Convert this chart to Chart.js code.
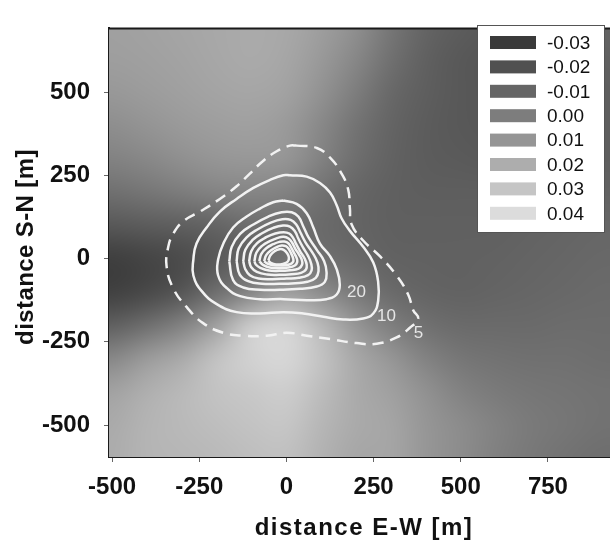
<!DOCTYPE html>
<html>
<head>
<meta charset="utf-8">
<script src="https://cdn.jsdelivr.net/npm/chart.js@4.4.1/dist/chart.umd.min.js"></script>
<style>
  html, body { margin: 0; padding: 0; background: #fff; }
  canvas { display: block; }
</style>
</head>
<body>
<canvas id="map" width="610" height="544"></canvas>
<script>
// axis ticks
const xTicks = [-500, -250, 0, 250, 500, 750];
const yTicks = [-500, -250, 0, 250, 500];

// background field, 100 m cells, grey level
const fieldX = [-500, -400, -300, -200, -100, 0, 100, 200, 300, 400, 500, 600, 700, 800, 900];
const fieldY = [700, 600, 500, 400, 300, 200, 100, 0, -100, -200, -300, -400, -500, -600];
const fieldGray = [
  [160, 162, 165, 168, 170, 168, 158, 143, 118, 100, 92, 88, 88, 92, 100],
  [158, 160, 163, 167, 170, 166, 153, 135, 112, 96, 88, 85, 85, 88, 96],
  [152, 156, 160, 164, 166, 162, 146, 125, 104, 94, 88, 85, 85, 88, 94],
  [142, 148, 154, 158, 160, 154, 136, 115, 100, 92, 88, 86, 86, 88, 94],
  [130, 136, 144, 150, 152, 150, 130, 110, 98, 92, 90, 88, 88, 90, 94],
  [112, 118, 125, 132, 134, 130, 114, 102, 96, 94, 94, 94, 94, 96, 98],
  [88, 92, 95, 100, 110, 112, 106, 100, 96, 96, 96, 96, 98, 100, 102],
  [62, 68, 75, 88, 100, 112, 112, 104, 98, 97, 97, 98, 100, 102, 104],
  [64, 72, 85, 110, 132, 158, 140, 120, 106, 100, 98, 100, 102, 104, 106],
  [95, 110, 130, 160, 205, 212, 185, 150, 126, 112, 106, 106, 106, 108, 108],
  [135, 155, 170, 195, 210, 215, 195, 168, 150, 130, 118, 114, 112, 112, 110],
  [162, 175, 185, 195, 200, 205, 188, 170, 160, 145, 130, 122, 118, 116, 114],
  [170, 180, 185, 190, 195, 198, 182, 170, 165, 150, 140, 130, 122, 118, 114],
  [172, 180, 182, 185, 190, 192, 178, 166, 165, 150, 140, 128, 120, 114, 110]
];

// legend
const legendLabels = ['-0.03', '-0.02', '-0.01', '0.00', '0.01', '0.02', '0.03', '0.04'];
const legendGrays = [58, 80, 102, 125, 149, 173, 197, 220];

// contour lines (closed), [x, y] in m
const contour5 = [[29,339],[87,332],[125,303],[158,255],[177,207],[182,150],[187,102],[220,54],[268,7],[316,-51],[349,-108],[364,-156],[378,-180],[354,-208],[316,-237],[259,-256],[201,-254],[125,-242],[58,-232],[1,-223],[-57,-232],[-124,-232],[-181,-223],[-239,-194],[-286,-146],[-325,-89],[-344,-22],[-339,35],[-325,74],[-296,112],[-248,141],[-191,179],[-143,217],[-105,255],[-67,293],[-28,322],[10,339]];
const contour10 = [[10,250],[58,246],[96,227],[125,198],[144,160],[158,121],[182,83],[220,35],[249,-12],[263,-70],[263,-127],[249,-165],[220,-180],[163,-183],[106,-175],[48,-165],[-9,-161],[-76,-165],[-143,-161],[-200,-137],[-243,-98],[-267,-51],[-267,-3],[-258,45],[-229,93],[-191,141],[-143,179],[-95,212],[-47,236],[-9,250]];
const contour20 = [[-9,174],[29,164],[58,136],[77,93],[96,45],[125,7],[144,-32],[153,-79],[144,-108],[115,-122],[58,-125],[-9,-122],[-76,-122],[-133,-113],[-171,-89],[-196,-51],[-196,-3],[-181,45],[-153,93],[-114,126],[-76,150],[-38,169]];
const contour30 = [[-164,-8],[-157,35],[-133,74],[-95,102],[-52,126],[-14,139],[15,139],[34,126],[48,97],[63,64],[87,26],[108,-8],[115,-41],[110,-70],[87,-84],[39,-91],[-19,-94],[-76,-94],[-124,-87],[-153,-65]];
const contour40 = [[-143,-8],[-137,30],[-115,63],[-82,88],[-45,108],[-12,118],[12,116],[28,102],[40,78],[55,48],[75,17],[89,-12],[92,-38],[84,-58],[60,-70],[25,-74],[-20,-76],[-70,-76],[-110,-68],[-134,-48]];
const contour50 = [[-124,-8],[-118,26],[-98,55],[-70,76],[-38,92],[-10,99],[10,96],[24,82],[34,60],[47,34],[62,8],[71,-16],[72,-36],[62,-50],[35,-58],[0,-60],[-40,-62],[-80,-60],[-105,-50],[-118,-32]];
const contour60 = [[-107,-8],[-101,22],[-84,46],[-58,64],[-32,75],[-8,79],[8,75],[19,62],[28,43],[40,20],[52,0],[58,-18],[56,-33],[42,-43],[15,-47],[-20,-49],[-55,-48],[-85,-40],[-101,-26]];
const contour70 = [[-92,-8],[-86,18],[-70,38],[-48,52],[-25,62],[-8,65],[6,60],[16,48],[25,30],[36,12],[44,-4],[45,-18],[35,-30],[10,-35],[-20,-37],[-50,-36],[-75,-28],[-88,-18]];
const contour80 = [[-78,-8],[-72,14],[-58,31],[-38,43],[-20,50],[-6,51],[6,45],[14,32],[22,16],[29,2],[31,-10],[24,-21],[5,-27],[-22,-29],[-48,-27],[-66,-20]];
const contour90 = [[-64,-8],[-58,10],[-45,24],[-28,34],[-14,39],[-2,37],[7,28],[14,14],[19,1],[19,-10],[8,-18],[-15,-21],[-38,-20],[-55,-15]];
const contour100 = [[-52,-6],[-46,10],[-34,22],[-20,28],[-8,26],[2,16],[7,3],[4,-9],[-10,-16],[-30,-18],[-45,-13]];

const contourLabels = ['20', '10', '5'];
const contourLabelX = [201, 287, 379];
const contourLabelY = [-100, -175, -224];

const grey = g => `rgb(${g},${g},${g})`;

const fieldPoints = [];
fieldY.forEach((y, r) => fieldX.forEach((x, c) => fieldPoints.push({x: x, y: y, g: fieldGray[r][c]})));

function closed(pts) {
  const out = pts.map(p => ({x: p[0], y: p[1]}));
  out.push({x: pts[0][0], y: pts[0][1]});
  return out;
}

function contourSet(pts, dashed) {
  return {
    type: 'scatter',
    data: closed(pts),
    showLine: true,
    borderColor: '#f2f2f2',
    borderWidth: 2.5,
    borderDash: dashed ? [11, 7] : [],
    pointRadius: 0,
    tension: 0.45,
    clip: 0,
    order: 0
  };
}

Chart.defaults.font.family = '"Liberation Sans", Arial, sans-serif';
Chart.defaults.color = '#111';

// field cells: positions come from the dataset's points, drawn as a smoothed raster
const fieldRaster = {
  id: 'fieldRaster',
  beforeDatasetDraw(chart, args) {
    if (args.index !== 0) return;
    const {ctx, chartArea: a} = chart;
    const els = args.meta.data;
    const nx = fieldX.length, ny = fieldY.length;
    const off = document.createElement('canvas');
    off.width = nx; off.height = ny;
    const octx = off.getContext('2d');
    const img = octx.createImageData(nx, ny);
    fieldPoints.forEach((p, i) => { img.data.set([p.g, p.g, p.g, 255], i * 4); });
    octx.putImageData(img, 0, 0);
    const x0 = els[0].x, y0 = els[0].y;
    const dx = (els[nx - 1].x - x0) / (nx - 1);
    const dy = (els[(ny - 1) * nx].y - y0) / (ny - 1);
    ctx.save();
    ctx.beginPath();
    ctx.rect(a.left, a.top, a.right - a.left, a.bottom - a.top);
    ctx.clip();
    ctx.imageSmoothingEnabled = true;
    ctx.imageSmoothingQuality = 'high';
    ctx.drawImage(off, x0 - dx / 2, y0 - dy / 2, dx * nx, dy * ny);
    ctx.restore();
    return false;
  }
};

const extras = {
  id: 'extras',
  afterDatasetsDraw(chart) {
    const {ctx, scales: {x, y}} = chart;
    ctx.save();
    ctx.fillStyle = '#e6e6e6';
    ctx.font = '17px "Liberation Sans", Arial, sans-serif';
    ctx.textAlign = 'center';
    ctx.textBaseline = 'middle';
    contourLabels.forEach((t, i) => {
      ctx.fillText(t, x.getPixelForValue(contourLabelX[i]), y.getPixelForValue(contourLabelY[i]));
    });
    ctx.restore();
  },
  afterDraw(chart) {
    const {ctx, chartArea: a} = chart;
    ctx.save();
    // top frame line
    ctx.strokeStyle = '#1a1a1a';
    ctx.lineWidth = 2;
    ctx.beginPath();
    ctx.moveTo(a.left, a.top);
    ctx.lineTo(a.right, a.top);
    ctx.stroke();

    // axis titles
    ctx.fillStyle = '#111';
    ctx.font = 'bold 24px "Liberation Sans", Arial, sans-serif';
    ctx.textAlign = 'center';
    ctx.textBaseline = 'alphabetic';
    ctx.letterSpacing = '1.5px';
    ctx.fillText('distance E-W [m]', 364, 535);
    ctx.letterSpacing = '0.4px';
    ctx.translate(33, 247);
    ctx.rotate(-Math.PI / 2);
    ctx.fillText('distance S-N [m]', 0, 0);
    ctx.setTransform(1, 0, 0, 1, 0, 0);
    ctx.letterSpacing = '0px';

    // legend
    const bx = 477.5, by = 25.5, bw = 127, bh = 207;
    ctx.fillStyle = '#fff';
    ctx.fillRect(bx, by, bw, bh);
    ctx.strokeStyle = '#555';
    ctx.lineWidth = 1;
    ctx.strokeRect(bx, by, bw, bh);
    ctx.font = '19px "Liberation Sans", Arial, sans-serif';
    ctx.textAlign = 'left';
    ctx.textBaseline = 'middle';
    legendLabels.forEach((t, i) => {
      const cy = 42.5 + i * 24.4;
      ctx.fillStyle = grey(legendGrays[i]);
      ctx.fillRect(490, cy - 6.5, 46, 13);
      ctx.fillStyle = '#111';
      ctx.fillText(t, 547, cy + 1);
    });
    ctx.restore();
  }
};

new Chart(document.getElementById('map'), {
  type: 'scatter',
  data: {
    datasets: [
      {
        type: 'scatter',
        data: fieldPoints,
        pointRadius: 0,
        pointBackgroundColor: c => grey(c.raw ? c.raw.g : 128),
        pointBorderWidth: 0,
        clip: 0,
        order: 1
      },
      contourSet(contour5, true),
      contourSet(contour10, false),
      contourSet(contour20, false),
      contourSet(contour30, false),
      contourSet(contour40, false),
      contourSet(contour50, false),
      contourSet(contour60, false),
      contourSet(contour70, false),
      contourSet(contour80, false),
      contourSet(contour90, false),
      contourSet(contour100, false)
    ]
  },
  options: {
    responsive: false,
    animation: false,
    events: [],
    layout: { autoPadding: false, padding: { top: 8, left: 0, right: 0, bottom: 0 } },
    plugins: { legend: { display: false }, tooltip: { enabled: false } },
    scales: {
      x: {
        type: 'linear',
        min: -509,
        max: 928,
        afterBuildTicks: s => { s.ticks = xTicks.map(v => ({value: v})); },
        afterFit: s => { s.height = 87; },
        grid: { drawOnChartArea: false, drawTicks: true, tickLength: 5, color: '#666' },
        border: { display: true, color: '#1a1a1a', width: 2 },
        ticks: { font: { size: 24, weight: 'bold' }, color: '#111', padding: 11, maxRotation: 0, autoSkip: false },
        title: { display: false }
      },
      y: {
        type: 'linear',
        min: -596,
        max: 691,
        afterBuildTicks: s => { s.ticks = yTicks.map(v => ({value: v})); },
        afterFit: s => { s.width = 109; },
        grid: { drawOnChartArea: false, drawTicks: true, tickLength: 5, color: '#666' },
        border: { display: true, color: '#1a1a1a', width: 2 },
        ticks: { font: { size: 24, weight: 'bold' }, color: '#111', padding: 14, autoSkip: false },
        title: { display: false }
      }
    }
  },
  plugins: [fieldRaster, extras]
});
</script>
</body>
</html>
